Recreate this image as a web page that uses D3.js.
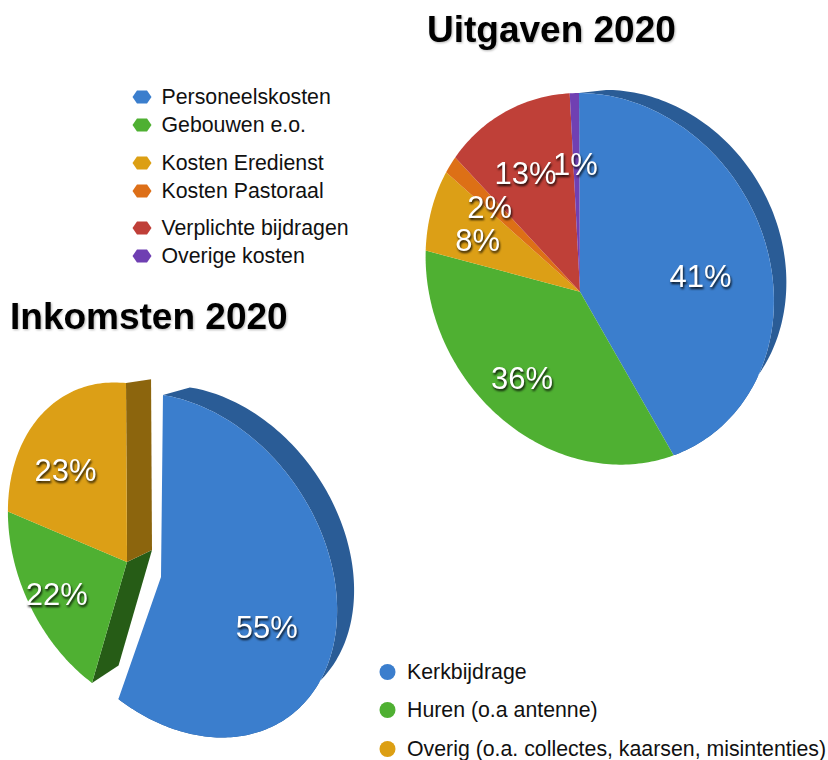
<!DOCTYPE html>
<html>
<head>
<meta charset="utf-8">
<script src="https://cdn.jsdelivr.net/npm/d3@7"></script>
<style>
  body { margin: 0; background: #fff; }
  text { font-family: "Liberation Sans", Arial, sans-serif; }
  .title { font-size: 37px; font-weight: bold; fill: #000; filter: drop-shadow(1px 1px 1px rgba(0,0,0,.3)); }
  .pct { font-size: 31px; fill: #fff; filter: drop-shadow(1px 2px 1px rgba(0,0,0,.85)); }
  .legend { fill: #111; font-size: 21.3px; }
</style>
</head>
<body>
<div id="chart"></div>
<script>
// Uitgaven
const uitgavenCats = ["Personeelskosten", "Gebouwen e.o.", "Kosten Eredienst", "Kosten Pastoraal", "Verplichte bijdragen", "Overige kosten"];
const uitgavenVals = [40.8, 36.2, 7.9, 1.7, 12.6, 0.8];
const uitgavenCols = ["#3b7ecd", "#4fb032", "#dc9f13", "#dd6f18", "#bf3f38", "#6f3fb2"];

// Inkomsten
const inkomstenCats = ["Kerkbijdrage", "Huren (o.a antenne)", "Overig (o.a. collectes, kaarsen, misintenties)"];
const inkomstenVals = [55, 22, 23];
const inkomstenCols = ["#3b7ecd", "#4fb032", "#dc9f13"];

const wallBlue = "#2b5c96", wallGreen = "#275c19", wallYellow = "#8c6510";

// label placement: radius on the disc, then a small nudge in pixels
const uitgavenRad = [0.65, 0.56, 0.68, 0.55, 0.65, 0.64];
const uitgavenNudge = [[4, 6], [-11, 12], [1, 5], [-18, -14], [-5, -4], [-1, -4]];
const inkomstenRad = [0.62, 0.68, 0.68];
const inkomstenNudge = [[6, 2], [-2, -1], [-1, 5]];

const svg = d3.select("#chart").append("svg")
    .attr("width", 828)
    .attr("height", 760);

const defs = svg.append("defs");
defs.append("filter").attr("id", "soft")
    .append("feGaussianBlur").attr("stdDeviation", 0.5);

// perspective of a disc: unit circle -> screen
function disc(m) {
    return function(theta, r, back) {
        const x = r * Math.sin(theta), y = -r * Math.cos(theta);
        const s = 1 + m.g * x + m.h * y;
        let px = (m.a * x + m.c * y) / s, py = (m.b * x + m.d * y) / s;
        if (back) {
            px = m.ex + m.sc * px;
            py = m.ey + m.sc * py;
        }
        return [m.cx + px, m.cy + py];
    };
}

const line = d3.line();
const pie = d3.pie().sort(null).value(d => d);

function arcPts(proj, a0, a1, back) {
    const n = Math.max(2, Math.ceil((a1 - a0) / 0.02));
    return d3.range(n + 1).map(i => proj(a0 + (a1 - a0) * i / n, 1, back));
}

function drawWall(g, proj, a0, a1, col) {
    const pts = arcPts(proj, a0, a1, false).concat(arcPts(proj, a0, a1, true).reverse());
    g.append("path").attr("d", line(pts) + "Z").attr("fill", col);
}

function drawCut(g, proj, a, col) {
    const pts = [proj(a, 0, false), proj(a, 1, false), proj(a, 1, true), proj(a, 0, true)];
    g.append("path").attr("d", line(pts) + "Z").attr("fill", col);
}

function drawFace(g, proj, d, col) {
    const pts = [proj(0, 0, false)].concat(arcPts(proj, d.startAngle, d.endAngle, false));
    g.append("path").attr("d", line(pts) + "Z").attr("fill", col);
}

function drawLabel(g, proj, d, r, nudge) {
    const p = proj((d.startAngle + d.endAngle) / 2, r, false);
    g.append("text").attr("class", "pct")
        .attr("x", p[0] + nudge[0]).attr("y", p[1] + 11 + nudge[1])
        .attr("text-anchor", "middle")
        .text(d3.format(".0f")(d.value) + "%");
}

// Uitgaven pie
const outDisc = disc({cx: 580, cy: 291.7, a: 171.3, b: 22.7, c: 0.9, d: 182.1, g: -0.1135, h: 0.0834, ex: 27, ey: -18, sc: 0.925});
const outArcs = pie(uitgavenVals);
const outG = svg.append("g");
const outShapes = outG.append("g").attr("filter", "url(#soft)");
drawWall(outShapes, outDisc, 0, outArcs[0].endAngle, wallBlue);
outArcs.forEach((d, i) => drawFace(outShapes, outDisc, d, uitgavenCols[i]));
outArcs.forEach((d, i) => drawLabel(outG, outDisc, d, uitgavenRad[i], uitgavenNudge[i]));

// Inkomsten pie, blue slice is pulled out
const inArcs = pie(inkomstenVals);
const blueDisc = disc({cx: 161, cy: 577, a: 152, b: 48, c: -1.77, d: 162.3, g: -0.13, h: 0.108, ex: 27, ey: -18, sc: 0.943});
const restDisc = disc({cx: 127, cy: 562, a: 133, b: 36.5, c: 0.88, d: 158, g: -0.1245, h: 0.1168, ex: 25, ey: -12, sc: 0.955});
const inG = svg.append("g");
const inShapes = inG.append("g").attr("filter", "url(#soft)");
drawWall(inShapes, blueDisc, inArcs[0].startAngle, inArcs[0].endAngle, wallBlue);
drawCut(inShapes, restDisc, inArcs[1].startAngle, wallGreen);
drawCut(inShapes, restDisc, inArcs[2].endAngle, wallYellow);
drawFace(inShapes, blueDisc, inArcs[0], inkomstenCols[0]);
drawFace(inShapes, restDisc, inArcs[1], inkomstenCols[1]);
drawFace(inShapes, restDisc, inArcs[2], inkomstenCols[2]);
drawLabel(inG, blueDisc, inArcs[0], inkomstenRad[0], inkomstenNudge[0]);
drawLabel(inG, restDisc, inArcs[1], inkomstenRad[1], inkomstenNudge[1]);
drawLabel(inG, restDisc, inArcs[2], inkomstenRad[2], inkomstenNudge[2]);

// Titles
svg.append("text").attr("class", "title").attr("x", 427).attr("y", 42).text("Uitgaven 2020");
svg.append("text").attr("class", "title").attr("x", 10).attr("y", 329).text("Inkomsten 2020");

// Top legend
const topY = [97, 125, 163, 191, 228, 256];
const hexagon = {
    draw(ctx) {
        ctx.moveTo(-9.5, 0); ctx.lineTo(-5, -6.5); ctx.lineTo(5, -6.5);
        ctx.lineTo(9.5, 0); ctx.lineTo(5, 6.5); ctx.lineTo(-5, 6.5);
        ctx.closePath();
    }
};
const topRows = svg.append("g").selectAll("g")
    .data(uitgavenCats)
    .enter()
    .append("g")
    .attr("transform", (d, i) => `translate(142,${topY[i]})`);
topRows.append("path")
    .attr("d", d3.symbol().type(hexagon))
    .attr("fill", (d, i) => uitgavenCols[i]);
topRows.append("text")
    .attr("class", "legend")
    .attr("x", 19.5)
    .attr("y", 7)
    .text(d => d);

// Bottom legend
const botY = [672, 710, 749];
const botRows = svg.append("g").selectAll("g")
    .data(inkomstenCats)
    .enter()
    .append("g")
    .attr("transform", (d, i) => `translate(387.5,${botY[i]})`);
botRows.append("circle")
    .attr("r", 8)
    .attr("fill", (d, i) => inkomstenCols[i]);
botRows.append("text")
    .attr("class", "legend")
    .attr("x", 19.5)
    .attr("y", 6.5)
    .text(d => d);
</script>
</body>
</html>
